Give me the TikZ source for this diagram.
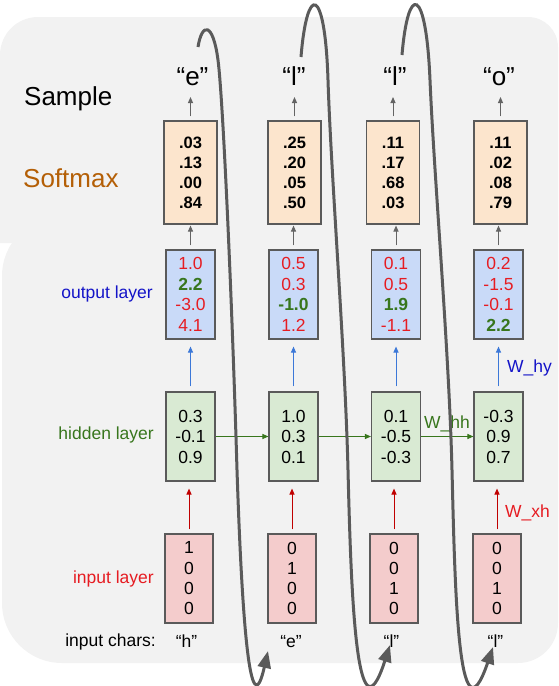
\documentclass[tikz,border=0pt]{standalone}
\usepackage{fontspec}
\setmainfont{Liberation Sans}
\usetikzlibrary{arrows.meta}
\definecolor{bg}{RGB}{242,242,242}
\definecolor{boxline}{RGB}{90,90,90}
\definecolor{softfill}{RGB}{252,229,205}
\definecolor{outfill}{RGB}{201,218,248}
\definecolor{hidfill}{RGB}{217,234,211}
\definecolor{infill}{RGB}{244,204,204}
\definecolor{lblue}{RGB}{20,20,200}
\definecolor{lgreen}{RGB}{56,118,29}
\definecolor{lred}{RGB}{230,28,34}
\definecolor{lorange}{RGB}{180,95,6}
\definecolor{arrred}{RGB}{192,0,0}
\definecolor{arrblue}{RGB}{60,120,216}
\definecolor{arrgray}{RGB}{100,100,100}
\definecolor{loopgray}{RGB}{90,90,90}
\newcommand{\numred}[1]{\textcolor{lred}{#1}}
\newcommand{\numgreen}[1]{\textcolor{lgreen}{\bfseries #1}}
\begin{document}
\begin{tikzpicture}[x=1pt,y=-1pt,
  box/.style={draw=boxline, line width=1.1pt, inner sep=0pt, align=center,
    font=\fontsize{17.5}{20.5}\selectfont},
  softbox/.style={box, fill=softfill, minimum width=53pt, minimum height=103pt,
    font=\fontsize{16.5}{20}\selectfont\bfseries},
  outbox/.style={box, fill=outfill, minimum width=49pt, minimum height=89pt},
  hidbox/.style={box, fill=hidfill, minimum width=49pt, minimum height=89pt},
  inbox/.style={box, fill=infill, minimum width=48pt, minimum height=89pt,
    font=\fontsize{17.5}{20.3}\selectfont},
  biglbl/.style={inner sep=0pt, font=\fontsize{26}{30}\selectfont},
  lbl/.style={inner sep=0pt, font=\fontsize{17.5}{20}\selectfont},
  smallarr/.style={line width=1pt, -{Triangle[length=6pt,width=5pt]}},
  grayarr/.style={smallarr, draw=arrgray},
  bluearr/.style={smallarr, draw=arrblue},
  redarr/.style={smallarr, draw=arrred},
  greenarr/.style={smallarr, draw=lgreen},
  loopline/.style={draw=loopgray, line width=3pt, -{Triangle[length=17pt,width=13pt]}}
]
\useasboundingbox (0,0) rectangle (558,686);
% background panels
\fill[bg] (558,216) -- (300,216) [rounded corners=60pt] -- (2,216) -- (2,663) -- (300,663) [rounded corners=40pt] -- (558,663) [sharp corners] -- cycle;
\fill[bg] (0,243) [rounded corners=38pt] -- (0,17) -- (300,17) [rounded corners=30pt] -- (558,17) [sharp corners] -- (558,243) -- cycle;

% left labels
\node[biglbl, anchor=base west] (lsample) at (24,105) {Sample};
\node[biglbl, anchor=base west, text=lorange] (lsoft) at (23,187) {Softmax};
\node[lbl, anchor=base east, text=lblue] (lout) at (153,298) {output layer};
\node[lbl, anchor=base east, text=lgreen] (lhid) at (154,439) {hidden layer};
\node[lbl, anchor=base east, text=lred] (lin) at (154,583) {input layer};
\node[lbl, anchor=base east] (lchars) at (156,646) {input chars:};

% sample outputs
\node[biglbl, anchor=base] (smp1) at (192.5,85) {“e”};
\node[biglbl, anchor=base] (smp2) at (294,85) {“l”};
\node[biglbl, anchor=base] (smp3) at (395,85) {“l”};
\node[biglbl, anchor=base] (smp4) at (499,85) {“o”};

% softmax boxes
\node[softbox] (soft1) at (190.5,172.5) {.03\\.13\\.00\\.84};
\node[softbox] (soft2) at (294.5,172.5) {.25\\.20\\.05\\.50};
\node[softbox] (soft3) at (393,172.5) {.11\\.17\\.68\\.03};
\node[softbox] (soft4) at (500.5,172.5) {.11\\.02\\.08\\.79};

% output boxes
\node[outbox] (out1) at (190.5,294.5) {\numred{1.0}\\\numgreen{2.2}\\\numred{-3.0}\\\numred{4.1}};
\node[outbox] (out2) at (293.5,294.5) {\numred{0.5}\\\numred{0.3}\\\numgreen{-1.0}\\\numred{1.2}};
\node[outbox] (out3) at (396,294.5) {\numred{0.1}\\\numred{0.5}\\\numgreen{1.9}\\\numred{-1.1}};
\node[outbox] (out4) at (498.5,294.5) {\numred{0.2}\\\numred{-1.5}\\\numred{-0.1}\\\numgreen{2.2}};

% hidden boxes
\node[hidbox] (hid1) at (190.5,436.5) {0.3\\-0.1\\0.9};
\node[hidbox] (hid2) at (293.5,436.5) {1.0\\0.3\\0.1};
\node[hidbox] (hid3) at (396,436.5) {0.1\\-0.5\\-0.3};
\node[hidbox] (hid4) at (498.5,436.5) {-0.3\\0.9\\0.7};

% input boxes
\node[inbox] (in1) at (189,578.5) {1\\0\\0\\0};
\node[inbox] (in2) at (292,578.5) {0\\1\\0\\0};
\node[inbox] (in3) at (394,578.5) {0\\0\\1\\0};
\node[inbox] (in4) at (497,578.5) {0\\0\\1\\0};

% input chars
\node[lbl, anchor=base] (ch1) at (186.5,647) {“h”};
\node[lbl, anchor=base] (ch2) at (291,647) {“e”};
\node[lbl, anchor=base] (ch3) at (391.5,647) {“l”};
\node[lbl, anchor=base] (ch4) at (495.5,647) {“l”};

% weight labels
\node[lbl, anchor=base west, text=lgreen] (whh) at (424,428) {W\_hh};
\node[lbl, anchor=base west, text=lblue] (why) at (507,372) {W\_hy};
\node[lbl, anchor=base west, text=lred] (wxh) at (505,517) {W\_xh};

% arrows
\foreach \i in {1,2,3,4}{
  \draw[grayarr, shorten <=4pt, shorten >=12pt] (soft\i.north) -- (soft\i.north |- smp\i.base);
  \draw[grayarr, shorten <=4pt, shorten >=1pt] (out\i.north) -- (out\i.north |- soft\i.south);
  \draw[bluearr, shorten <=5pt, shorten >=7pt] (hid\i.north) -- (hid\i.north |- out\i.south);
  \draw[redarr, shorten <=4pt, shorten >=7pt] (in\i.north) -- (in\i.north |- hid\i.south);
}
\draw[greenarr] (hid1.east) -- (hid2.west);
\draw[greenarr] (hid2.east) -- (hid3.west);
\draw[greenarr] (hid3.east) -- (hid4.west);

% loop-back curves
\coordinate (la1) at (198,47);
\coordinate (lb1) at (268,651);
\draw[loopline] (la1) .. controls (202,22) and (213,22) .. (218,60)
  .. controls (223,98) and (232,300) .. (237,470)
  .. controls (242,620) and (250,730) .. (lb1);
\coordinate (la2) at (301,57);
\coordinate (lb2) at (390,645);
\draw[loopline] (la2) .. controls (307,-17) and (325,-15) .. (328,80)
  .. controls (331,175) and (345,350) .. (348,470)
  .. controls (351,590) and (356,750) .. (lb2);
\coordinate (la3) at (402,55);
\coordinate (lb3) at (493,647);
\draw[loopline] (la3) .. controls (408,-17) and (426,-15) .. (430,80)
  .. controls (434,175) and (449,350) .. (452,470)
  .. controls (455,590) and (458,750) .. (lb3);
\end{tikzpicture}
\end{document}
